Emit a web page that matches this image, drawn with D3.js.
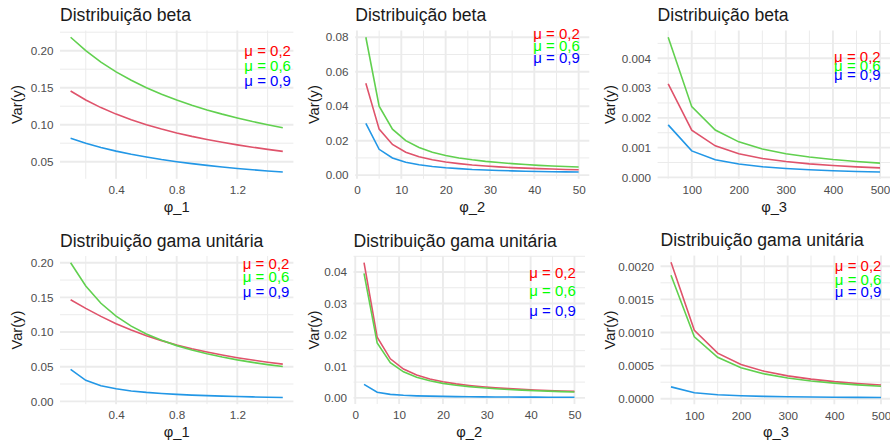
<!DOCTYPE html>
<html>
<head>
<meta charset="utf-8">
<script src="https://d3js.org/d3.v7.min.js"></script>
<style>
  body { margin: 0; background: #fff; }
  svg text { font-family: "Liberation Sans", Arial, sans-serif; }
</style>
</head>
<body>
<script>
// x grids
var phi1 = [0.1, 0.2, 0.3, 0.4, 0.5, 0.6, 0.7, 0.8, 0.9, 1.0, 1.1, 1.2, 1.3, 1.4, 1.5];
var phi2 = [2, 5, 8, 11, 14, 17, 20, 23, 26, 29, 32, 35, 38, 41, 44, 47, 50];
var phi3 = [50, 100, 150, 200, 250, 300, 350, 400, 450, 500];

// beta, Var(y) for mu = 0.2 / 0.6 / 0.9
var beta1Mu02 = [0.1455, 0.1333, 0.1231, 0.1143, 0.1067, 0.1, 0.0941, 0.0889, 0.0842, 0.08, 0.0762, 0.0727, 0.0696, 0.0667, 0.064];
var beta1Mu06 = [0.2182, 0.2, 0.1846, 0.1714, 0.16, 0.15, 0.1412, 0.1333, 0.1263, 0.12, 0.1143, 0.1091, 0.1043, 0.1, 0.096];
var beta1Mu09 = [0.0818, 0.075, 0.0692, 0.0643, 0.06, 0.0563, 0.0529, 0.05, 0.0474, 0.045, 0.0429, 0.0409, 0.0391, 0.0375, 0.036];

var beta2Mu02 = [0.0533, 0.0267, 0.0178, 0.0133, 0.0107, 0.0089, 0.0076, 0.0067, 0.0059, 0.0053, 0.0048, 0.0044, 0.0041, 0.0038, 0.0036, 0.0033, 0.0031];
var beta2Mu06 = [0.08, 0.04, 0.0267, 0.02, 0.016, 0.0133, 0.0114, 0.01, 0.0089, 0.008, 0.0073, 0.0067, 0.0062, 0.0057, 0.0053, 0.005, 0.0047];
var beta2Mu09 = [0.03, 0.015, 0.01, 0.0075, 0.006, 0.005, 0.0043, 0.0038, 0.0033, 0.003, 0.0027, 0.0025, 0.0023, 0.0021, 0.002, 0.0019, 0.0018];

var beta3Mu02 = [0.003137, 0.001584, 0.00106, 0.000796, 0.000637, 0.000532, 0.000456, 0.000399, 0.000355, 0.000319];
var beta3Mu06 = [0.004706, 0.002376, 0.001589, 0.001194, 0.000956, 0.000797, 0.000684, 0.000599, 0.000532, 0.000479];
var beta3Mu09 = [0.001765, 0.000891, 0.000596, 0.000448, 0.000359, 0.000299, 0.000256, 0.000224, 0.0002, 0.00018];

// gama unitaria
var gama1Mu02 = [0.1466, 0.1341, 0.1226, 0.1121, 0.1029, 0.0947, 0.0876, 0.0814, 0.0759, 0.0711, 0.0668, 0.063, 0.0596, 0.0565, 0.0537];
var gama1Mu06 = [0.2, 0.1665, 0.1415, 0.1229, 0.1085, 0.0972, 0.088, 0.0804, 0.074, 0.0686, 0.0639, 0.0598, 0.0562, 0.053, 0.0502];
var gama1Mu09 = [0.046, 0.0303, 0.0226, 0.0181, 0.015, 0.0129, 0.0113, 0.01, 0.009, 0.0082, 0.0075, 0.0069, 0.0064, 0.006, 0.0056];

var gama2Mu02 = [0.04295, 0.01931, 0.01241, 0.00914, 0.00723, 0.00598, 0.0051, 0.00444, 0.00394, 0.00353, 0.00321, 0.00293, 0.0027, 0.00251, 0.00234, 0.00219, 0.00206];
var gama2Mu06 = [0.03957, 0.01747, 0.01121, 0.00826, 0.00653, 0.00541, 0.00461, 0.00402, 0.00356, 0.0032, 0.0029, 0.00266, 0.00245, 0.00227, 0.00212, 0.00198, 0.00186];
var gama2Mu09 = [0.00428, 0.00176, 0.00111, 0.00081, 0.00064, 0.00053, 0.00045, 0.00039, 0.00035, 0.00031, 0.00028, 0.00026, 0.00024, 0.00022, 0.0002, 0.00019, 0.00018];

var gama3Mu02 = [0.002059, 0.001033, 0.000689, 0.000517, 0.000414, 0.000345, 0.000296, 0.000259, 0.00023, 0.000207];
var gama3Mu06 = [0.001864, 0.000936, 0.000625, 0.000469, 0.000375, 0.000313, 0.000268, 0.000235, 0.000209, 0.000188];
var gama3Mu09 = [0.000179, 0.00009, 0.00006, 0.000045, 0.000036, 0.00003, 0.000026, 0.000022, 0.00002, 0.000018];

var muLabels = ["\u03bc = 0,2", "\u03bc = 0,6", "\u03bc = 0,9"];

// ticks
var ticksPhi1 = [0.4, 0.8, 1.2];
var ticksPhi2 = [0, 10, 20, 30, 40, 50];
var ticksPhi3 = [100, 200, 300, 400, 500];
var yTicksBeta1 = [0.05, 0.10, 0.15, 0.20];
var yTicksBeta2 = [0, 0.02, 0.04, 0.06, 0.08];
var yTicksBeta3 = [0, 0.001, 0.002, 0.003, 0.004];
var yTicksGama1 = [0, 0.05, 0.10, 0.15, 0.20];
var yTicksGama2 = [0, 0.01, 0.02, 0.03, 0.04];
var yTicksGama3 = [0, 0.0005, 0.001, 0.0015, 0.002];

var lineColors = ["#DF536B", "#61D04F", "#2297E6"];
var textColors = ["#FF0000", "#00FF00", "#0000FF"];

var panels = [
  { title: "Distribuição beta", xName: "φ_1", x: phi1, ys: [beta1Mu02, beta1Mu06, beta1Mu09],
    xt: ticksPhi1, yt: yTicksBeta1, xf: ".1f", yf: ".2f", lab: [1.4, [0.20, 0.18, 0.16]],
    cell: 0, box: [60, 293.4, 30.5, 178.8] },
  { title: "Distribuição beta", xName: "φ_2", x: phi2, ys: [beta2Mu02, beta2Mu06, beta2Mu09],
    xt: ticksPhi2, yt: yTicksBeta2, xf: "d", yf: ".2f", lab: [45, [0.0823, 0.0751, 0.0683]],
    cell: 296.67, box: [355.2, 589.3, 30.5, 178.8] },
  { title: "Distribuição beta", xName: "φ_3", x: phi3, ys: [beta3Mu02, beta3Mu06, beta3Mu09],
    xt: ticksPhi3, yt: yTicksBeta3, xf: "d", yf: ".3f", lab: [452, [0.00405, 0.00375, 0.00344]],
    cell: 593.33, box: [657.6, 890.6, 30.5, 178.8] },
  { title: "Distribuição gama unitária", xName: "φ_1", x: phi1, ys: [gama1Mu02, gama1Mu06, gama1Mu09],
    xt: ticksPhi1, yt: yTicksGama1, xf: ".1f", yf: ".2f", lab: [1.39, [0.199, 0.18, 0.159]],
    cell: 0, box: [60, 293.4, 256, 404.2] },
  { title: "Distribuição gama unitária", xName: "φ_2", x: phi2, ys: [gama2Mu02, gama2Mu06, gama2Mu09],
    xt: ticksPhi2, yt: yTicksGama2, xf: "d", yf: ".2f", lab: [45, [0.04, 0.0342, 0.0278]],
    cell: 296.67, box: [353.5, 585, 256, 404] },
  { title: "Distribuição gama unitária", xName: "φ_3", x: phi3, ys: [gama3Mu02, gama3Mu06, gama3Mu09],
    xt: ticksPhi3, yt: yTicksGama3, xf: "d", yf: ".4f", lab: [451, [0.002015, 0.001804, 0.001612]],
    cell: 593.33, box: [660.5, 891.5, 255.6, 404.3] }
];

var svg = d3.select("body").append("svg")
  .attr("width", 890).attr("height", 444);

// ggplot-like 5% expansion
function expand(ext) {
  var d = (ext[1] - ext[0]) * 0.05;
  return [ext[0] - d, ext[1] + d];
}

// minor breaks halfway between majors, like ggplot
function minors(major, dom) {
  var step = major[1] - major[0];
  var b = [major[0] - step].concat(major, [major[major.length - 1] + step]);
  var out = [];
  for (var i = 0; i < b.length - 1; i++) {
    var m = (b[i] + b[i + 1]) / 2;
    if (m >= dom[0] && m <= dom[1]) out.push(m);
  }
  return out;
}

panels.forEach(function(p, pi) {
  var left = p.box[0], right = p.box[1], top = p.box[2], bottom = p.box[3];
  var allY = d3.merge(p.ys);
  var xDom = expand(d3.extent(p.x));
  var yDom = expand(d3.extent(allY));
  var x = d3.scaleLinear().domain(xDom).range([left, right]);
  var y = d3.scaleLinear().domain(yDom).range([bottom, top]);

  var g = svg.append("g");
  var clipId = "clip" + pi;
  g.append("clipPath").attr("id", clipId).append("rect")
    .attr("x", left).attr("y", top).attr("width", right - left).attr("height", bottom - top);

  var grid = g.append("g");
  // minor grid
  minors(p.xt, xDom).forEach(function(v) {
    grid.append("line").attr("x1", x(v)).attr("x2", x(v)).attr("y1", top).attr("y2", bottom)
      .attr("stroke", "#EBEBEB").attr("stroke-width", 1);
  });
  minors(p.yt, yDom).forEach(function(v) {
    grid.append("line").attr("x1", left).attr("x2", right).attr("y1", y(v)).attr("y2", y(v))
      .attr("stroke", "#EBEBEB").attr("stroke-width", 1);
  });
  // major grid
  p.xt.forEach(function(v) {
    grid.append("line").attr("x1", x(v)).attr("x2", x(v)).attr("y1", top).attr("y2", bottom)
      .attr("stroke", "#EBEBEB").attr("stroke-width", 1.9);
  });
  p.yt.forEach(function(v) {
    grid.append("line").attr("x1", left).attr("x2", right).attr("y1", y(v)).attr("y2", y(v))
      .attr("stroke", "#EBEBEB").attr("stroke-width", 1.9);
  });

  // axes (labels only, like theme_minimal)
  var ax = g.append("g").attr("transform", "translate(0," + bottom + ")")
    .call(d3.axisBottom(x).tickValues(p.xt).tickFormat(d3.format(p.xf)).tickSize(0).tickPadding(7));
  var ay = g.append("g").attr("transform", "translate(" + left + ",0)")
    .call(d3.axisLeft(y).tickValues(p.yt).tickFormat(d3.format(p.yf)).tickSize(0).tickPadding(6.6));
  [ax, ay].forEach(function(a) {
    a.select(".domain").remove();
    a.selectAll("text").attr("fill", "#4D4D4D").style("font-size", "11.7px")
      .style("font-family", "'Liberation Sans', Arial, sans-serif");
  });

  // lines
  var line = d3.line()
    .x(function(d, i) { return x(p.x[i]); })
    .y(function(d) { return y(d); });
  p.ys.forEach(function(s, k) {
    g.append("path").datum(s)
      .attr("d", line)
      .attr("fill", "none")
      .attr("stroke", lineColors[k])
      .attr("stroke-width", 1.6)
      .attr("clip-path", "url(#" + clipId + ")");
  });

  // mu labels
  p.lab[1].forEach(function(v, k) {
    g.append("text")
      .attr("x", x(p.lab[0])).attr("y", y(v))
      .attr("text-anchor", "middle")
      .attr("dominant-baseline", "central")
      .style("font-size", "15px")
      .attr("fill", textColors[k])
      .text(muLabels[k]);
  });

  // titles
  g.append("text")
    .attr("x", left).attr("y", top - 9.5)
    .style("font-size", "17.6px").attr("fill", "#1A1A1A")
    .text(p.title);
  g.append("text")
    .attr("x", (left + right) / 2).attr("y", bottom + 28)
    .attr("text-anchor", "middle").attr("dominant-baseline", "central")
    .style("font-size", "14.7px").attr("fill", "#1A1A1A")
    .text(p.xName);
  g.append("text")
    .attr("transform", "translate(" + (p.cell + 17) + "," + ((top + bottom) / 2) + ") rotate(-90)")
    .attr("text-anchor", "middle").attr("dominant-baseline", "central")
    .style("font-size", "14.7px").attr("fill", "#1A1A1A")
    .text("Var(y)");
});
</script>
</body>
</html>
